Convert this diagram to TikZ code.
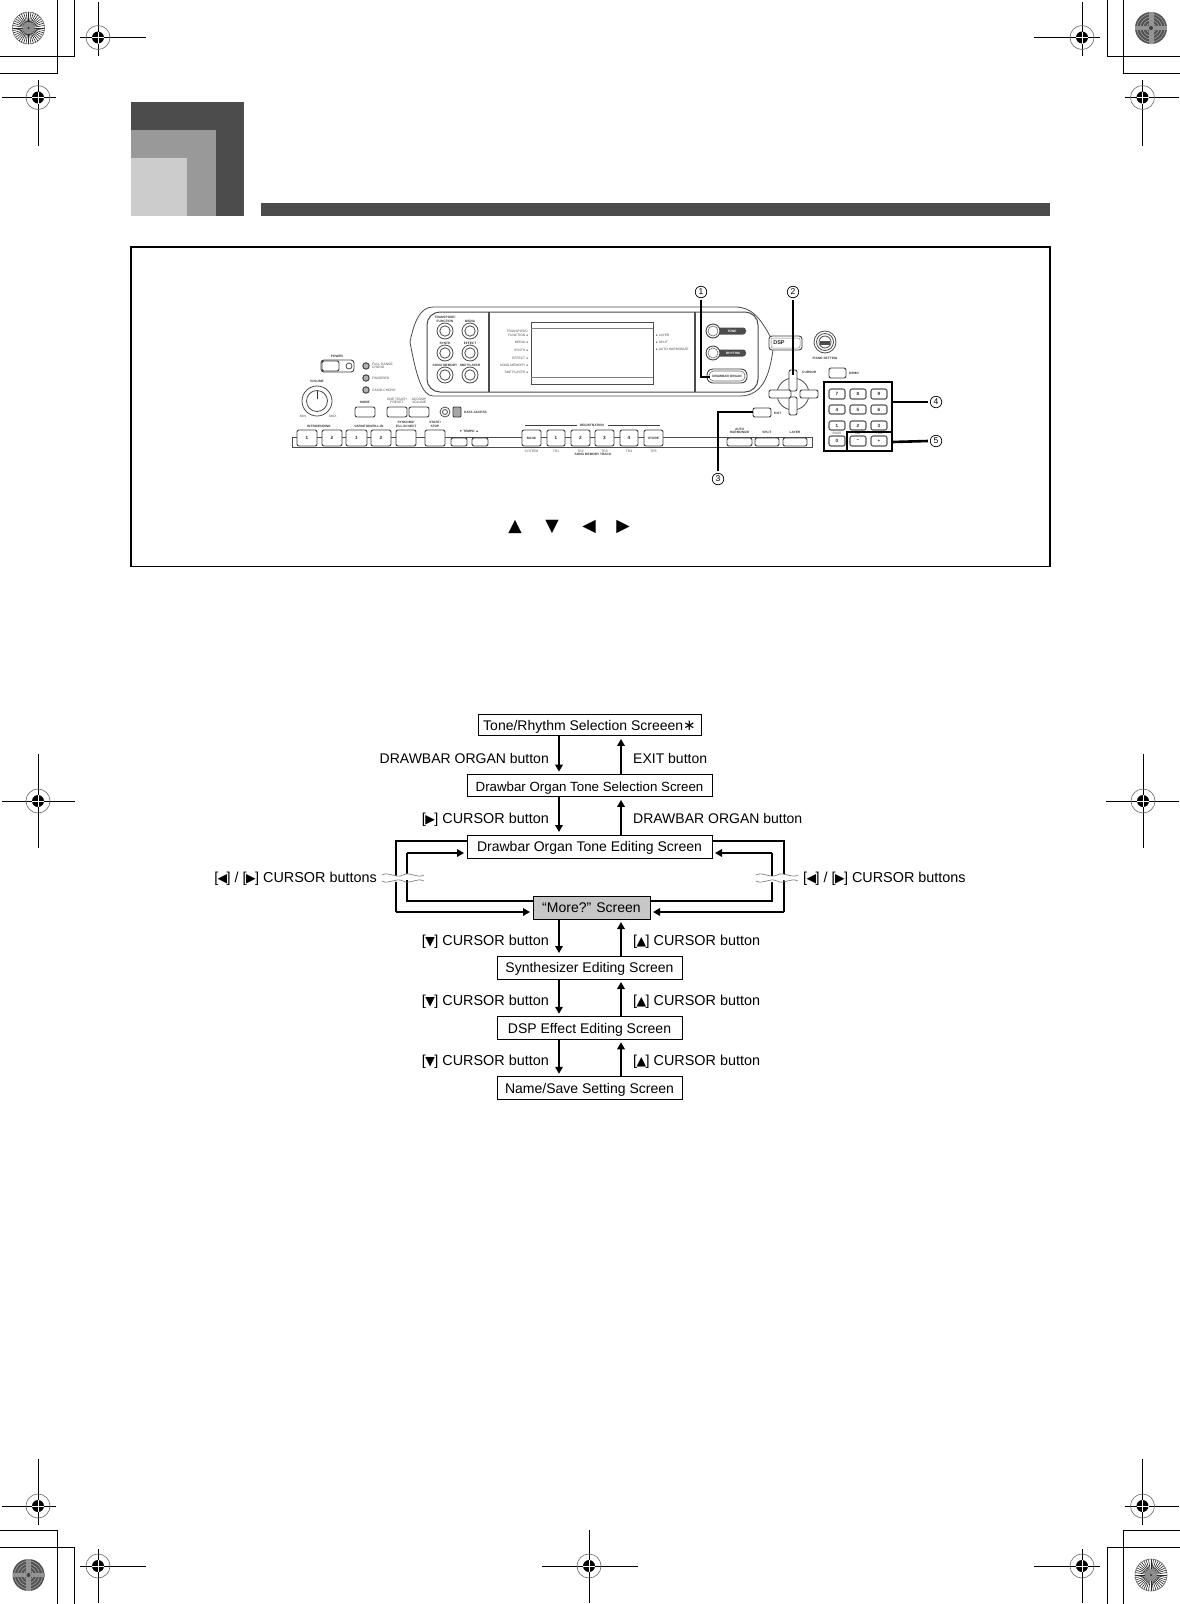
\documentclass[tikz,border=0pt]{standalone}
\usepackage{fontspec}
\setmainfont{Liberation Sans}
\newfontfamily\djv{DejaVu Sans}
\usetikzlibrary{arrows.meta,calc}
\newcommand{\LT}{{\djv\fontsize{12.5}{12}\selectfont\kern-.6pt ◀\kern-.6pt}}
\newcommand{\RT}{{\djv\fontsize{12.5}{12}\selectfont\kern-.6pt ▶\kern-.6pt}}
\newcommand{\UT}{{\djv\fontsize{12.5}{12}\selectfont\kern-.6pt ▲\kern-.6pt}}
\newcommand{\DT}{{\djv\fontsize{12.5}{12}\selectfont\kern-.6pt ▼\kern-.6pt}}
\newcommand{\ml}{{\djv ◂}}
\newcommand{\mr}{{\djv ▸}}
\tikzset{
  scr/.style={draw=black,line width=1pt,fill=white,inner sep=0pt,text height=13.6pt,text depth=3pt,font=\fontsize{14}{16}\selectfont},
  lab/.style={inner sep=0pt,font=\fontsize{14}{16}\selectfont},
  cur/.style={inner sep=0pt,font=\fontsize{14.4}{16}\selectfont},
  arr/.style={line width=1.9pt,-{Triangle[width=7.5pt,length=7pt]},shorten >=2.5pt},
  loop/.style={line width=1.9pt},
  lead/.style={line width=2.6pt,line cap=butt},
  btn/.style={draw=black!75,line width=.9pt,fill=white,rounded corners=2pt},
  pline/.style={draw=black!70,line width=.8pt},
  tn/.style={inner sep=0pt,align=center,text=black!70,font=\fontsize{3.3}{3.7}\selectfont},
  tb/.style={inner sep=0pt,align=center,text=black!80,font=\bfseries\fontsize{3.2}{3.7}\selectfont},
  num/.style={inner sep=0pt,text=black!85,font=\bfseries\fontsize{4.6}{5}\selectfont},
  circ/.style={circle,draw=black,line width=.7pt,minimum size=11.5pt,inner sep=0pt,font=\fontsize{8.5}{9}\selectfont},
  crop/.style={line width=1pt,draw=black},
  reg/.style={line width=1pt,draw=black},
  wave/.style={draw=black!55,line width=.6pt},
  tri/.style={inner sep=0pt,font=\djv\fontsize{17.5}{17}\selectfont},
}
\newcommand{\regm}[6]{%
  \draw[reg] (#1-#3,#2) -- (#1+#4,#2) (#1,#2-#5) -- (#1,#2+#6);
  \draw[draw=black!60,line width=.6pt] (#1,#2) circle (12pt);
  \fill[black] (#1,#2) circle (6pt);
  \draw[white,line width=.7pt] (#1-6,#2) -- (#1+6,#2) (#1,#2-6) -- (#1,#2+6);
}
\newcommand{\lightdisc}[2]{%
  \fill[white] (#1,#2) circle (16pt);
  \foreach \a in {0,9,...,351}{\draw[black!85,line width=.6pt] (#1,#2) -- ++(\a:16pt);}
  \fill[black!45] (#1,#2) circle (6pt);
  \fill[black!80] (#1,#2) circle (1.2pt);
  \draw[black!60,line width=.6pt] (#1,#2) circle (16pt);
}
\newcommand{\darkdisc}[2]{%
  \fill[black!68] (#1,#2) circle (16pt);
  \foreach \r in {5,8,11,14}{\draw[black!40,line width=.7pt] (#1,#2) circle (\r pt);}
  \fill[black!42] (#1-2.5,#2-16) rectangle (#1+2.5,#2+16);
  \fill[black!42] (#1-16,#2-2) rectangle (#1+16,#2+2);
  \fill[black!75] (#1,#2) circle (2pt);
}
\newcommand{\pb}[4]{\draw[btn] (#1,#2) rectangle (#3,#4);}
\begin{document}
\begin{tikzpicture}[x=1pt,y=-1pt]
\useasboundingbox (0,0) rectangle (1180,1604);
\fill[white] (0,0) rectangle (1180,1604);

%% crop marks
\draw[crop] (74.3,0) -- (74.3,56) -- (0,56);
\draw[crop] (57.3,0) -- (57.3,73) -- (0,73);
\draw[crop] (1107,0) -- (1107,56) -- (1180,56);
\draw[crop] (1123,0) -- (1123,73) -- (1180,73);
\draw[crop] (57.3,1604) -- (57.3,1530) -- (0,1530);
\draw[crop] (74.3,1604) -- (74.3,1547) -- (0,1547);
\draw[crop] (1123,1604) -- (1123,1530) -- (1180,1530);
\draw[crop] (1107,1604) -- (1107,1547) -- (1180,1547);
\lightdisc{28.5}{28}
\darkdisc{1151}{28}
\darkdisc{28.5}{1575}
\lightdisc{1151}{1575}
\regm{98}{37.5}{18}{48}{35.5}{18.5}
\regm{38}{97.5}{36}{18}{17.5}{48.5}
\regm{1082}{37.5}{48}{18}{35.5}{18.5}
\regm{1142.5}{97.5}{18}{36}{17.5}{48.5}
\regm{38}{1506}{36}{18}{47}{19}
\regm{98}{1566}{18}{48}{17}{37}
\regm{1142.5}{1506}{18}{36}{47}{19}
\regm{1082}{1566}{48}{18}{17}{37}
\regm{38}{801}{36}{37}{47}{47}
\regm{1143}{801}{37}{36}{47}{47}
\regm{589}{1566}{47}{49}{36}{37}

%% header block
\fill[black!70] (131,102) rectangle (244,215.5);
\fill[black!40] (131,130) rectangle (216,215.5);
\fill[black!20] (131,158) rectangle (187,215.5);
\fill[black!70] (261,203) rectangle (1050,216);

%% frame
\draw[line width=1.3pt] (131,247) rectangle (1050,566.5);

%% display bezel
\draw[pline] (433,307) -- (735,307) .. controls (752,307) and (760,318) .. (770,336)
  (773,350) .. controls (770,370) and (765,396) .. (740,396) -- (433,396)
  .. controls (422,396) and (416,375) .. (410,342) .. controls (414,322) and (420,307) .. (433,307);
\draw[draw=black!70,line width=1pt,rounded corners=13pt] (427,312) rectangle (758,392);
\draw[draw=black!70,line width=1.2pt] (489,312) -- (489,392) (695,312) -- (695,392);
\draw[draw=black!70,line width=.8pt] (531,322) rectangle (653,384);
\draw[draw=black!50,line width=.6pt] (531,328) -- (653,328) (531,377) -- (653,377);
\foreach \x/\y in {445/331,470/331,445/353,470/353,445/375,470/375}{
  \draw[pline] (\x,\y) circle (8pt) (\x,\y) circle (5.2pt);
}
\node[tb] (t1) at (445,319.5) {TRANSPOSE/\\FUNCTION};
\node[tb] (t2) at (470,321) {MEDIA};
\node[tb] (t3) at (445,343.5) {SYNTH};
\node[tb] (t4) at (470,343.5) {EFFECT};
\node[tb] (t5) at (445,365.5) {SONG MEMORY};
\node[tb] (t6) at (470,365.5) {SMF PLAYER};
\node[tn,anchor=east,align=right] (d1) at (528,333) {TRANSPOSE/\\FUNCTION \ml};
\node[tn,anchor=east] (d2) at (528,342.5) {MEDIA \ml};
\node[tn,anchor=east] (d3) at (528,350) {SYNTH \ml};
\node[tn,anchor=east] (d4) at (528,358) {EFFECT \ml};
\node[tn,anchor=east] (d5) at (528,365) {SONG MEMORY \ml};
\node[tn,anchor=east] (d6) at (528,372.5) {SMF PLAYER \ml};
\node[tn,anchor=west] (d7) at (656,335) {\mr\ LAYER};
\node[tn,anchor=west] (d8) at (656,342) {\mr\ SPLIT};
\node[tn,anchor=west] (d9) at (656,349) {\mr\ AUTO HARMONIZE};

%% tone / rhythm / drawbar
\fill[black!70,rounded corners=3pt] (713,327.5) rectangle (746,334.5);
\fill[black!70,rounded corners=3pt] (713,349.5) rectangle (746,356.5);
\draw[draw=black!75,fill=white,line width=.9pt] (713,331) circle (7pt) (713,353) circle (7pt);
\draw[black!60,line width=.6pt] (713,331) circle (5pt) (713,353) circle (5pt);
\node[tb,text=white] (ptone) at (732,331) {TONE};
\node[tb,text=white] (prhy) at (733,353) {RHYTHM};
\draw[draw=black!75,line width=.9pt,rounded corners=6pt] (707,369) rectangle (747,383);
\draw[draw=black!60,line width=.6pt,rounded corners=4.5pt] (709,371) rectangle (745,381);
\node[tb] (pdraw) at (727,376) {DRAWBAR ORGAN};
%% dsp / piano setting
\draw[draw=black!75,line width=.9pt,fill=white,rounded corners=3pt] (769,336) rectangle (802,350);
\draw[draw=black!50,line width=.5pt,rounded corners=2pt] (771,338) rectangle (800,348);
\node[inner sep=0pt,text=black!85,font=\bfseries\fontsize{5.5}{6}\selectfont] (pdsp) at (779,343) {DSP};
\foreach \r in {11,8.5,6}{\draw[black!70,line width=.8pt] (825,342) circle (\r pt);}
\fill[black!70] (820,341) rectangle (830,345);
\node[tb] (ppiano) at (825,358) {PIANO SETTING};
%% cursor
\draw[pline] (793,394) circle (16pt);
\pb{789}{370}{797}{391}
\pb{789}{397}{797}{415}
\pb{769}{390}{791}{398}
\pb{800}{390}{818}{398}
\node[tb,anchor=west] (pcur) at (802,372) {CURSOR};
\pb{829}{368}{846}{378}
\node[tb,anchor=west] (pdemo) at (849,373) {DEMO};
\pb{753}{408}{771}{417}
\node[tb,anchor=west] (pexit) at (774,413) {EXIT};

%% left panel
\node[tb] (ppower) at (337,356) {POWER};
\draw[draw=black!75,line width=.9pt,rounded corners=3pt] (321,360) rectangle (354,372);
\pb{322}{361}{339}{371}
\draw[pline] (349,366) circle (3pt);
\foreach \y in {366,378,390}{\draw[draw=black!75,fill=black!30,line width=1pt] (366,\y) circle (3.2pt);}
\node[tn,anchor=west,align=left] (l1) at (372,366) {FULL RANGE\\CHORD};
\node[tn,anchor=west] (l2) at (372,378) {FINGERED};
\node[tn,anchor=west] (l3) at (372,390) {CASIO CHORD};
\node[tb] (pvol) at (317,381) {VOLUME};
\draw[pline] (317,401) circle (15pt) (317,401) circle (10.5pt);
\draw[draw=black!80,line width=1pt] (317,391) -- (317,399);
\node[tn] (pmin) at (303,416) {MIN};
\node[tn] (pmax) at (333,416) {MAX};
\node[tb] (pmode) at (365,402) {MODE};
\pb{355}{407}{375}{417}
\pb{387}{407}{407}{417}
\pb{409}{407}{429}{417}
\node[tn] (pone) at (397,401) {ONE TOUCH\\PRESET};
\node[tn] (pacc) at (419,401) {ACCOMP\\VOLUME};
\draw[pline] (445,412) circle (5pt) (445,412) circle (2.5pt);
\draw[draw=black!80,fill=black!35,line width=.8pt,rounded corners=1pt] (453,407) rectangle (461,417);
\node[tb,anchor=west] (pdata) at (464,412) {DATA ACCESS};

%% strip
\draw[pline,fill=white] (292,437) -- (812,437) -- (812,447.5) -- (292,447.5) -- cycle;
\foreach \a/\b in {297/317,322/342,346/367,371/391,396/416,425/445,522/541,547/565,571/590,595/614,620/638,644/663}{
  \pb{\a}{430}{\b}{446}
}
\foreach \a/\b in {451/467,472/488,727/752,755/779,783/807}{
  \pb{\a}{438}{\b}{446}
}
\node[tb] (s1) at (319,426) {INTRO/ENDING};
\node[tb] (s2) at (369,426) {VARIATION/FILL-IN};
\node[tb] (s3) at (406,424) {SYNCHRO/\\FILL-IN NEXT};
\node[tb] (s4) at (435,424) {START/\\STOP};
\node[tb] (s5) at (469,431.5) {▼ TEMPO ▲};
\node[num] (n1) at (307,438) {1};
\node[num] (n2) at (332,438) {2};
\node[num] (n3) at (356.5,438) {1};
\node[num] (n4) at (381,438) {2};
\node[tb] (rb) at (531.5,438) {BANK};
\node[num] (r1) at (556,438) {1};
\node[num] (r2) at (580.5,438) {2};
\node[num] (r3) at (604.5,438) {3};
\node[num] (r4) at (629,438) {4};
\node[tb] (rs) at (653.5,438) {STORE};
\node[tb] (preg) at (592,425.5) {REGISTRATION};
\draw[draw=black!75,line width=.9pt] (525,425.5) -- (577,425.5) (608,425.5) -- (660,425.5);
\node[tn] (u0) at (531.5,451) {SYSTEM};
\node[tn] (u1) at (556,451) {TR1};
\node[tn] (u2) at (580.5,451) {TR2};
\node[tn] (u3) at (604.5,451) {TR3};
\node[tn] (u4) at (629,451) {TR4};
\node[tn] (u5) at (653.5,451) {TR5};
\node[tb] (u6) at (593,454.5) {SONG MEMORY TRACK};
\node[tb] (a1) at (739.5,431) {AUTO\\HARMONIZE};
\node[tb] (a2) at (767,432) {SPLIT};
\node[tb] (a3) at (795,432) {LAYER};

%% keypad
\foreach \a/\b/\y/\z/\t/\nm in {829/845/389/399/7/k7,850/866/389/399/8/k8,871/887/389/399/9/k9,
  829/845/405/414/4/k4,850/866/405/414/5/k5,871/887/405/414/6/k6,
  829/845/421/430/1/k1,850/866/421/430/2/k2,871/887/421/430/3/k3,
  829/845/436/446/0/k0,850/866/436/446/−/km,871/887/436/446/+/kp}{
  \draw[draw=black!65,line width=1.1pt,fill=white,rounded corners=2pt] (\a,\y) rectangle (\b,\z);
  \node[num] (\nm) at ({(\a+\b)/2},{(\y+\z)/2}) {\t};
}
\node[tn] (kt0) at (837,433.5) {BASS};
\node[tn] (kt1) at (858,433.5) {NO};
\node[tn] (kt2) at (879,433.5) {YES};
\draw[line width=2.6pt] (824,382) rectangle (892,451);
\draw[line width=2.6pt] (847,451) -- (847,432) -- (892,432);

%% leaders and callouts
\node[circ] (c1) at (701,292) {1};
\node[circ] (c2) at (793,292) {2};
\node[circ] (c3) at (718,479) {3};
\node[circ] (c4) at (936,402) {4};
\node[circ] (c5) at (936,441) {5};
\coordinate (e1) at (710,377);
\coordinate (e2) at (793,375);
\coordinate (e3) at (753,412);
\coordinate (e4) at (892,402);
\coordinate (e5) at (892,442);
\draw[lead] (c1.south) ++(0,2) -- (c1 |- e1) -- (e1);
\draw[lead] (c2.south) ++(0,2) -- (e2);
\draw[lead] (c3.north) ++(0,-2) -- (c3 |- e3) -- (e3);
\draw[lead] (c4.west) ++(-2,0) -- (e4);
\draw[lead] (c5.west) ++(-2,0) -- (e5);

%% arrow-key legend
\node[tri] (kup) at (515,526.5) {▲};
\node[tri] (kdn) at (552,526.5) {▼};
\node[tri] (klt) at (589,526.5) {◀};
\node[tri] (krt) at (623,526.5) {▶};

%% flow chart
\coordinate (lx) at (559,0);
\coordinate (rx) at (621,0);
\node[scr,minimum width=223pt,minimum height=21.5pt] (tone) at (589.5,725.2) {Tone/Rhythm Selection Screeen{\djv\fontsize{15}{15}\selectfont∗}};
\node[scr,font=\fontsize{13.3}{16}\selectfont,minimum width=245pt,minimum height=22.3pt] (sel) at (589.5,785.8) {Drawbar Organ Tone Selection Screen};
\node[scr,minimum width=245pt,minimum height=23pt] (edit) at (589.5,846.5) {Drawbar Organ Tone Editing Screen};
\node[scr,fill=black!22,minimum width=117pt,minimum height=23pt] (more) at (591.5,907.5) {“More?” Screen};
\node[scr,minimum width=185pt,minimum height=23pt] (syn) at (589.5,967.5) {Synthesizer Editing Screen};
\node[scr,minimum width=185pt,minimum height=22.5pt] (dsp) at (589.5,1028) {DSP Effect Editing Screen};
\node[scr,minimum width=185pt,minimum height=22.5pt] (name) at (589.5,1088) {Name/Save Setting Screen};

\foreach \a/\b in {tone/sel,sel/edit,more/syn,syn/dsp,dsp/name}{
  \draw[arr] (\a.south -| lx) -- (\b.north -| lx);
  \draw[arr] (\b.north -| rx) -- (\a.south -| rx);
}

% loops
\coordinate (ol) at (396,841);
\coordinate (il) at (407,853);
\coordinate (or) at (784,841);
\coordinate (ir) at (772,853);
\coordinate (obl) at (396,912);
\coordinate (ibl) at (407,901);
\coordinate (obr) at (784,912);
\coordinate (ibr) at (772,901);
\draw[loop] (edit.west |- ol) -- (ol) -- (obl);
\draw[arr] (obl) -- (more.west |- obl);
\draw[loop] (more.west |- ibl) -- (ibl) -- (il);
\draw[arr] (il) -- (edit.west |- il);
\draw[loop] (edit.east |- or) -- (or) -- (obr);
\draw[arr] (obr) -- (more.east |- obr);
\draw[loop] (more.east |- ibr) -- (ibr) -- (ir);
\draw[arr] (ir) -- (edit.east |- ir);

% break marks
\foreach \x in {382,756}{
  \fill[white] (\x,875) .. controls (\x+7,871) and (\x+14,879) .. (\x+21,875) .. controls (\x+28,871) and (\x+35,879) .. (\x+42,875)
    -- (\x+42,881) .. controls (\x+35,885) and (\x+28,877) .. (\x+21,881) .. controls (\x+14,885) and (\x+7,877) .. (\x,881) -- cycle;
  \draw[wave] (\x,875) .. controls (\x+7,871) and (\x+14,879) .. (\x+21,875) .. controls (\x+28,871) and (\x+35,879) .. (\x+42,875);
  \draw[wave] (\x,881) .. controls (\x+7,885) and (\x+14,877) .. (\x+21,881) .. controls (\x+28,885) and (\x+35,877) .. (\x+42,881);
}

% labels
\node[lab,anchor=base east] (la) at (549,763) {DRAWBAR ORGAN button};
\node[lab,anchor=base west] (ra) at (633,763) {EXIT button};
\node[cur,anchor=base east] (lb) at (549,823) {[\RT] CURSOR button};
\node[lab,anchor=base west] (rb2) at (633,823) {DRAWBAR ORGAN button};
\node[cur,anchor=base east] (lc) at (377,882) {[\LT] / [\RT] CURSOR buttons};
\node[cur,anchor=base west] (rc) at (803,882) {[\LT] / [\RT] CURSOR buttons};
\node[cur,anchor=base east] (ld) at (549,945.5) {[\DT] CURSOR button};
\node[cur,anchor=base west] (rd) at (633,945.5) {[\UT] CURSOR button};
\node[cur,anchor=base east] (le) at (549,1005.5) {[\DT] CURSOR button};
\node[cur,anchor=base west] (re) at (633,1005.5) {[\UT] CURSOR button};
\node[cur,anchor=base east] (lf) at (549,1065) {[\DT] CURSOR button};
\node[cur,anchor=base west] (rf) at (633,1065) {[\UT] CURSOR button};
\end{tikzpicture}
\end{document}
